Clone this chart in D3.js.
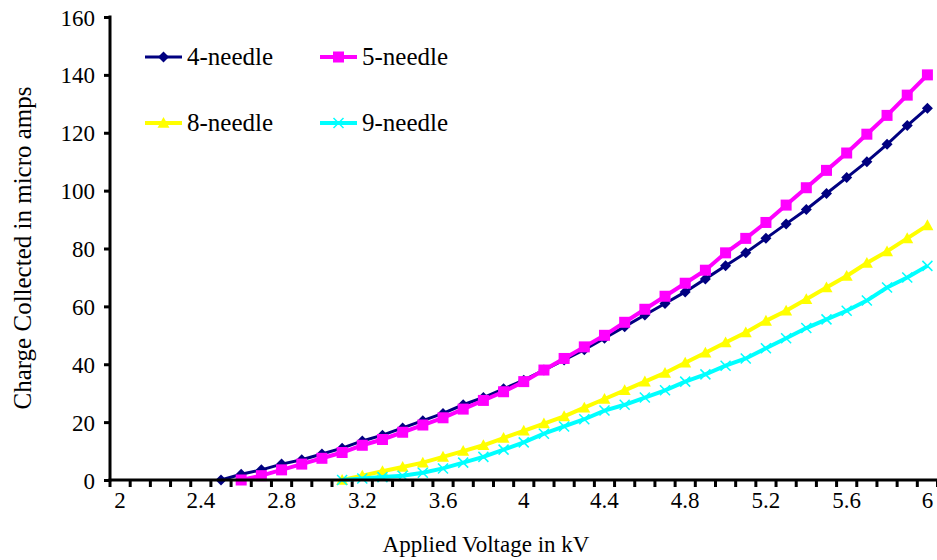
<!DOCTYPE html>
<html><head><meta charset="utf-8">
<script src="https://cdn.jsdelivr.net/npm/d3@7"></script>
<style>body{margin:0;background:#fff}svg{display:block}</style>
</head><body><svg id="c" width="937" height="560"></svg>
<script>
const voltages = ["2","2.1","2.2","2.3","2.4","2.5","2.6","2.7","2.8","2.9","3","3.1","3.2","3.3","3.4","3.5","3.6","3.7","3.8","3.9","4","4.1","4.2","4.3","4.4","4.5","4.6","4.7","4.8","4.9","5","5.1","5.2","5.3","5.4","5.5","5.6","5.7","5.8","5.9","6"];
const xTickLabels = ["2","2.4","2.8","3.2","3.6","4","4.4","4.8","5.2","5.6","6"];
const yTicks = [0,20,40,60,80,100,120,140,160];
// values from 2.5 kV (4-needle), 2.6 kV (5-needle), 3.1 kV (8- and 9-needle) up to 6 kV
const needle4 = [0,2,3.5,5.5,7,9,11,13.5,15.5,18,20.5,23,26,28.5,31.5,34.5,38,41.5,45,49,53,57,61,65,69.5,74,78.5,83.5,88.5,93.5,99,104.5,110,116,122.5,128.5];
const needle5 = [0,1.5,3.5,5.5,7.5,9.5,12,14,16.5,19,21.5,24.5,27.5,30.5,34,38,42,46,50,54.5,59,63.5,68,72.5,78.5,83.5,89,95,101,107,113,119.5,126,133,140];
const needle8 = [0,1.5,3,4.5,6,8,10,12,14.5,17,19.5,22,25,28,31,34,37,40.5,44,47.5,51,55,58.5,62.5,66.5,70.5,75,79,83.5,88];
const needle9 = [0,0.5,1,1.5,2.5,4,6,8,10.5,13,16,18.5,21,24,26,28.5,31,34,36.5,39.5,42,45.5,49,52.5,55.5,58.5,62,66.5,70,74];
const seriesNames = ["4-needle","5-needle","8-needle","9-needle"];
const seriesStart = ["2.5","2.6","3.1","3.1"];

const FONT = '"Liberation Serif", "Times New Roman", "DejaVu Serif", serif';
const FS = 23;
const svg = d3.select("#c");
const x = d3.scaleBand().domain(voltages).range([110, 937.5]).padding(0);
const y = d3.scaleLinear().domain([0,160]).range([480, 17]);
const cx = v => x(v) + x.bandwidth()/2;

const series = [needle4, needle5, needle8, needle9].map((vals,i)=>{
  const s = voltages.indexOf(seriesStart[i]);
  return {name: seriesNames[i], pts: vals.map((v,j)=>({v: voltages[s+j], y: v}))};
});
const styles = [
  {color:"#000080", width:3, marker:"diamond", size:11},
  {color:"#ff00ff", width:4, marker:"square", size:11},
  {color:"#ffff00", width:4, marker:"triangle", size:12},
  {color:"#00ffff", width:4, marker:"x", size:10}
];

function drawMarker(g, st, px, py){
  const s = st.size/2;
  if(st.marker==="diamond"){
    g.append("path").attr("d",`M${px},${py-s}L${px+s},${py}L${px},${py+s}L${px-s},${py}Z`).attr("fill",st.color);
  } else if(st.marker==="square"){
    g.append("rect").attr("x",px-s).attr("y",py-s).attr("width",2*s).attr("height",2*s).attr("fill",st.color);
  } else if(st.marker==="triangle"){
    g.append("path").attr("d",`M${px},${py-s}L${px+s},${py+s*0.8}L${px-s},${py+s*0.8}Z`).attr("fill",st.color);
  } else {
    g.append("path").attr("d",`M${px-s},${py-s}L${px+s},${py+s}M${px-s},${py+s}L${px+s},${py-s}`).attr("stroke",st.color).attr("stroke-width",1.5).attr("fill","none");
  }
}

// axes
const yAxis = svg.append("g").attr("transform","translate(110,0)")
  .call(d3.axisLeft(y).tickValues(yTicks).tickSize(6).tickPadding(9));
yAxis.attr("font-family",FONT).attr("font-size",FS);
yAxis.select(".domain").remove();
yAxis.selectAll("line").attr("stroke","#000").attr("stroke-width",3);
yAxis.selectAll("text").attr("fill","#000").attr("dy","0.35em");

const xAxis = svg.append("g").attr("transform","translate(0,480)")
  .call(d3.axisBottom(x).tickValues(xTickLabels).tickSize(0).tickPadding(28));
xAxis.attr("font-family",FONT).attr("font-size",FS);
xAxis.select(".domain").remove();
xAxis.selectAll("text").attr("fill","#000").attr("dy","0");
// category boundary ticks
const bounds = voltages.map(v=>x(v)).concat([x.range()[1]]);
svg.append("g").selectAll("line").data(bounds).join("line")
  .attr("x1",d=>d).attr("x2",d=>d).attr("y1",480).attr("y2",487)
  .attr("stroke","#000").attr("stroke-width",3);

// series
series.forEach((s,i)=>{
  const st = styles[i];
  const g = svg.append("g");
  g.append("path").datum(s.pts)
    .attr("d", d3.line().x(d=>cx(d.v)).y(d=>y(d.y)))
    .attr("fill","none").attr("stroke",st.color).attr("stroke-width",st.width);
  s.pts.forEach(p=>drawMarker(g, st, cx(p.v), y(p.y)));
});

// axis lines on top
svg.append("line").attr("x1",110).attr("x2",110).attr("y1",15.5).attr("y2",481.5).attr("stroke","#000").attr("stroke-width",3);
svg.append("line").attr("x1",108.5).attr("x2",937).attr("y1",480).attr("y2",480).attr("stroke","#000").attr("stroke-width",3);

// legend
const legPos = [[145,57],[320,57],[145,123],[320,123]];
series.forEach((s,i)=>{
  const st = styles[i];
  const [lx,ly] = legPos[i];
  const g = svg.append("g");
  g.append("line").attr("x1",lx).attr("x2",lx+37).attr("y1",ly).attr("y2",ly).attr("stroke",st.color).attr("stroke-width",st.width);
  drawMarker(g, st, lx+18.5, ly);
  g.append("text").attr("x",lx+42).attr("y",ly+8).attr("font-family",FONT).attr("font-size",25).attr("fill","#000").text(s.name);
});

// titles
svg.append("text").attr("x",486).attr("y",552).attr("text-anchor","middle").attr("font-family",FONT).attr("font-size",FS).text("Applied Voltage in kV");
svg.append("text").attr("transform","translate(31,248) rotate(-90)").attr("text-anchor","middle").attr("font-family",FONT).attr("font-size",25).text("Charge Collected in micro amps");
</script></body></html>
